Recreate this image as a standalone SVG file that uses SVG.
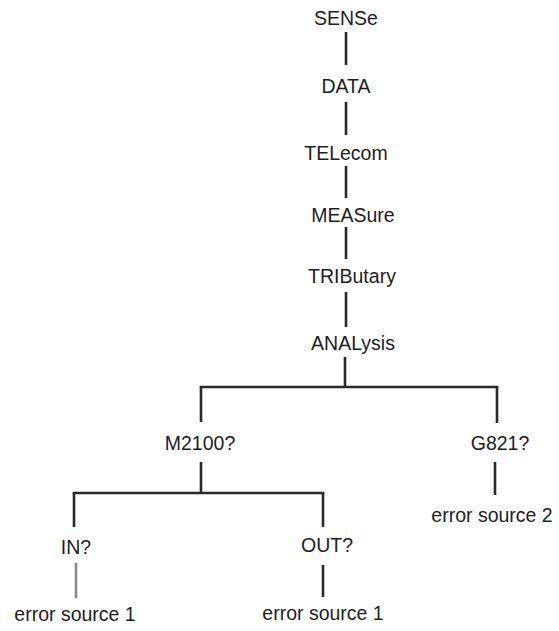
<svg xmlns="http://www.w3.org/2000/svg" width="559" height="631" viewBox="0 0 559 631">
<style>
text{font-family:"Liberation Sans",Arial,sans-serif;font-size:19.5px;fill:#1e1e1e;text-anchor:middle}
.c line{stroke:#2b2b2b;stroke-width:2.6;stroke-linecap:butt}
.c line.faint{stroke:#8a8a8a}
</style>
<rect width="559" height="631" fill="#fff"/>
<g class="c" id="connectors">
<line x1="346" y1="32" x2="346" y2="65"/>
<line x1="346" y1="102" x2="346" y2="135"/>
<line x1="346" y1="166" x2="346" y2="198"/>
<line x1="346" y1="227" x2="346" y2="259"/>
<line x1="346" y1="292" x2="346" y2="327"/>
<line x1="345" y1="357" x2="345" y2="387"/>
<line x1="199.7" y1="387" x2="498.3" y2="387"/>
<line x1="201" y1="387" x2="201" y2="422"/>
<line x1="497" y1="387" x2="497" y2="423"/>
<line x1="201" y1="462" x2="201" y2="493"/>
<line x1="72.7" y1="493" x2="324.3" y2="493"/>
<line x1="74" y1="493" x2="74" y2="527"/>
<line x1="323" y1="493" x2="323" y2="527"/>
<line class="faint" x1="76" y1="563" x2="76" y2="598"/>
<line x1="323" y1="565" x2="323" y2="597"/>
<line x1="495" y1="462" x2="495" y2="495"/>
</g>
<g id="sense"><text x="346" y="25">SENSe</text></g>
<g id="data"><text x="346" y="93">DATA</text></g>
<g id="telecom"><text x="346" y="160">TELecom</text></g>
<g id="measure"><text x="353" y="222">MEASure</text></g>
<g id="tributary"><text x="352" y="283">TRIButary</text></g>
<g id="analysis"><text x="353" y="350">ANALysis</text></g>
<g id="m2100"><text x="200" y="450">M2100?</text></g>
<g id="g821"><text x="500" y="450">G821?</text></g>
<g id="err2"><text x="492" y="522">error source 2</text></g>
<g id="in"><text x="76" y="554">IN?</text></g>
<g id="out"><text x="327" y="552">OUT?</text></g>
<g id="err1a"><text x="75" y="621">error source 1</text></g>
<g id="err1b"><text x="323" y="620">error source 1</text></g>
</svg>
